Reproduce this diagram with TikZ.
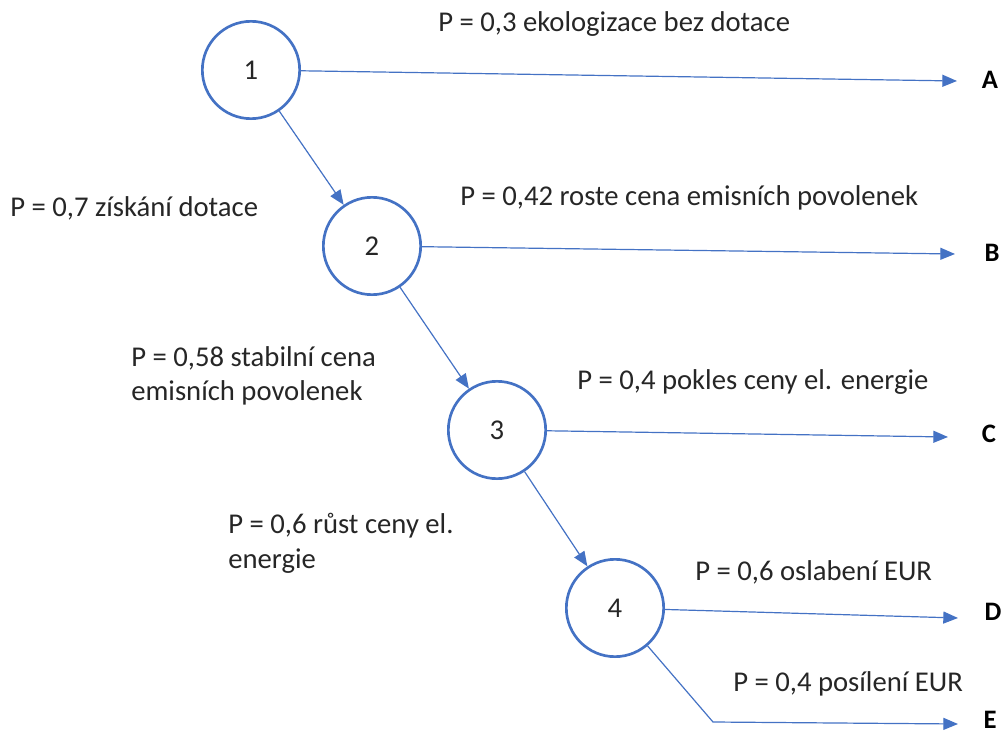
\documentclass[tikz,border=0pt]{standalone}
\usepackage{fontspec}
\setmainfont{Carlito}
\usetikzlibrary{arrows.meta}
\definecolor{Office}{HTML}{4472C4}

\begin{document}
\begin{tikzpicture}[x=0.75pt,y=-0.75pt, every node/.style={font=\fontsize{21.5}{26}\selectfont, text=black!85},
  state/.style={circle,draw=Office,line width=2pt,minimum size=73pt,inner sep=0pt},
  lbl/.style={anchor=west,align=left,inner sep=0pt},
  leaf/.style={font=\fontsize{20}{26}\selectfont\bfseries,text=black,inner sep=0pt},
  arr/.style={-{Triangle[length=11pt,width=9pt]},draw=Office,line width=0.9pt}]
\useasboundingbox (0,0) rectangle (1001,735);
% decision nodes
\node[state] (n1) at (251,70) {1};
\node[state] (n2) at (372,246) {2};
\node[state] (n3) at (497,430) {3};
\node[state] (n4) at (615,608) {4};
% outcomes
\node[leaf] (A) at (990,80) {A};
\node[leaf] (B) at (992,253) {B};
\node[leaf] (C) at (989,434) {C};
\node[leaf] (D) at (993,612) {D};
\node[leaf] (E) at (990,720) {E};
\coordinate (ta) at (957,81);
\coordinate (tb) at (955,254);
\coordinate (tc) at (948,437);
\coordinate (td) at (958,618);
\coordinate (te) at (958,724);
\coordinate (ke) at (713,722);
% probabilities
\node[lbl] (p1) at (438,24) {P = 0,3 ekologizace bez dotace};
\node[lbl] (p2) at (10,208) {P = 0,7 získání dotace};
\node[lbl] (p3) at (460,198) {P = 0,42 roste cena emisních povolenek};
\node[lbl] (p4) at (131,376) {P = 0,58 stabilní cena\\emisních povolenek};
\node[lbl] (p5) at (577,382) {P = 0,4 pokles ceny el. energie};
\node[lbl] (p6) at (228,543) {P = 0,6 růst ceny el.\\energie};
\node[lbl] (p7) at (695,572) {P = 0,6 oslabení EUR};
\node[lbl] (p8) at (733,684) {P = 0,4 posílení EUR};
% branches
\draw[arr] (n1) -- (ta);
\draw[arr] (n1) -- (n2);
\draw[arr] (n2) -- (tb);
\draw[arr] (n2) -- (n3);
\draw[arr] (n3) -- (tc);
\draw[arr] (n3) -- (n4);
\draw[arr] (n4) -- (td);
\draw[arr] (n4) -- (ke) -- (te);
\end{tikzpicture}
\end{document}
